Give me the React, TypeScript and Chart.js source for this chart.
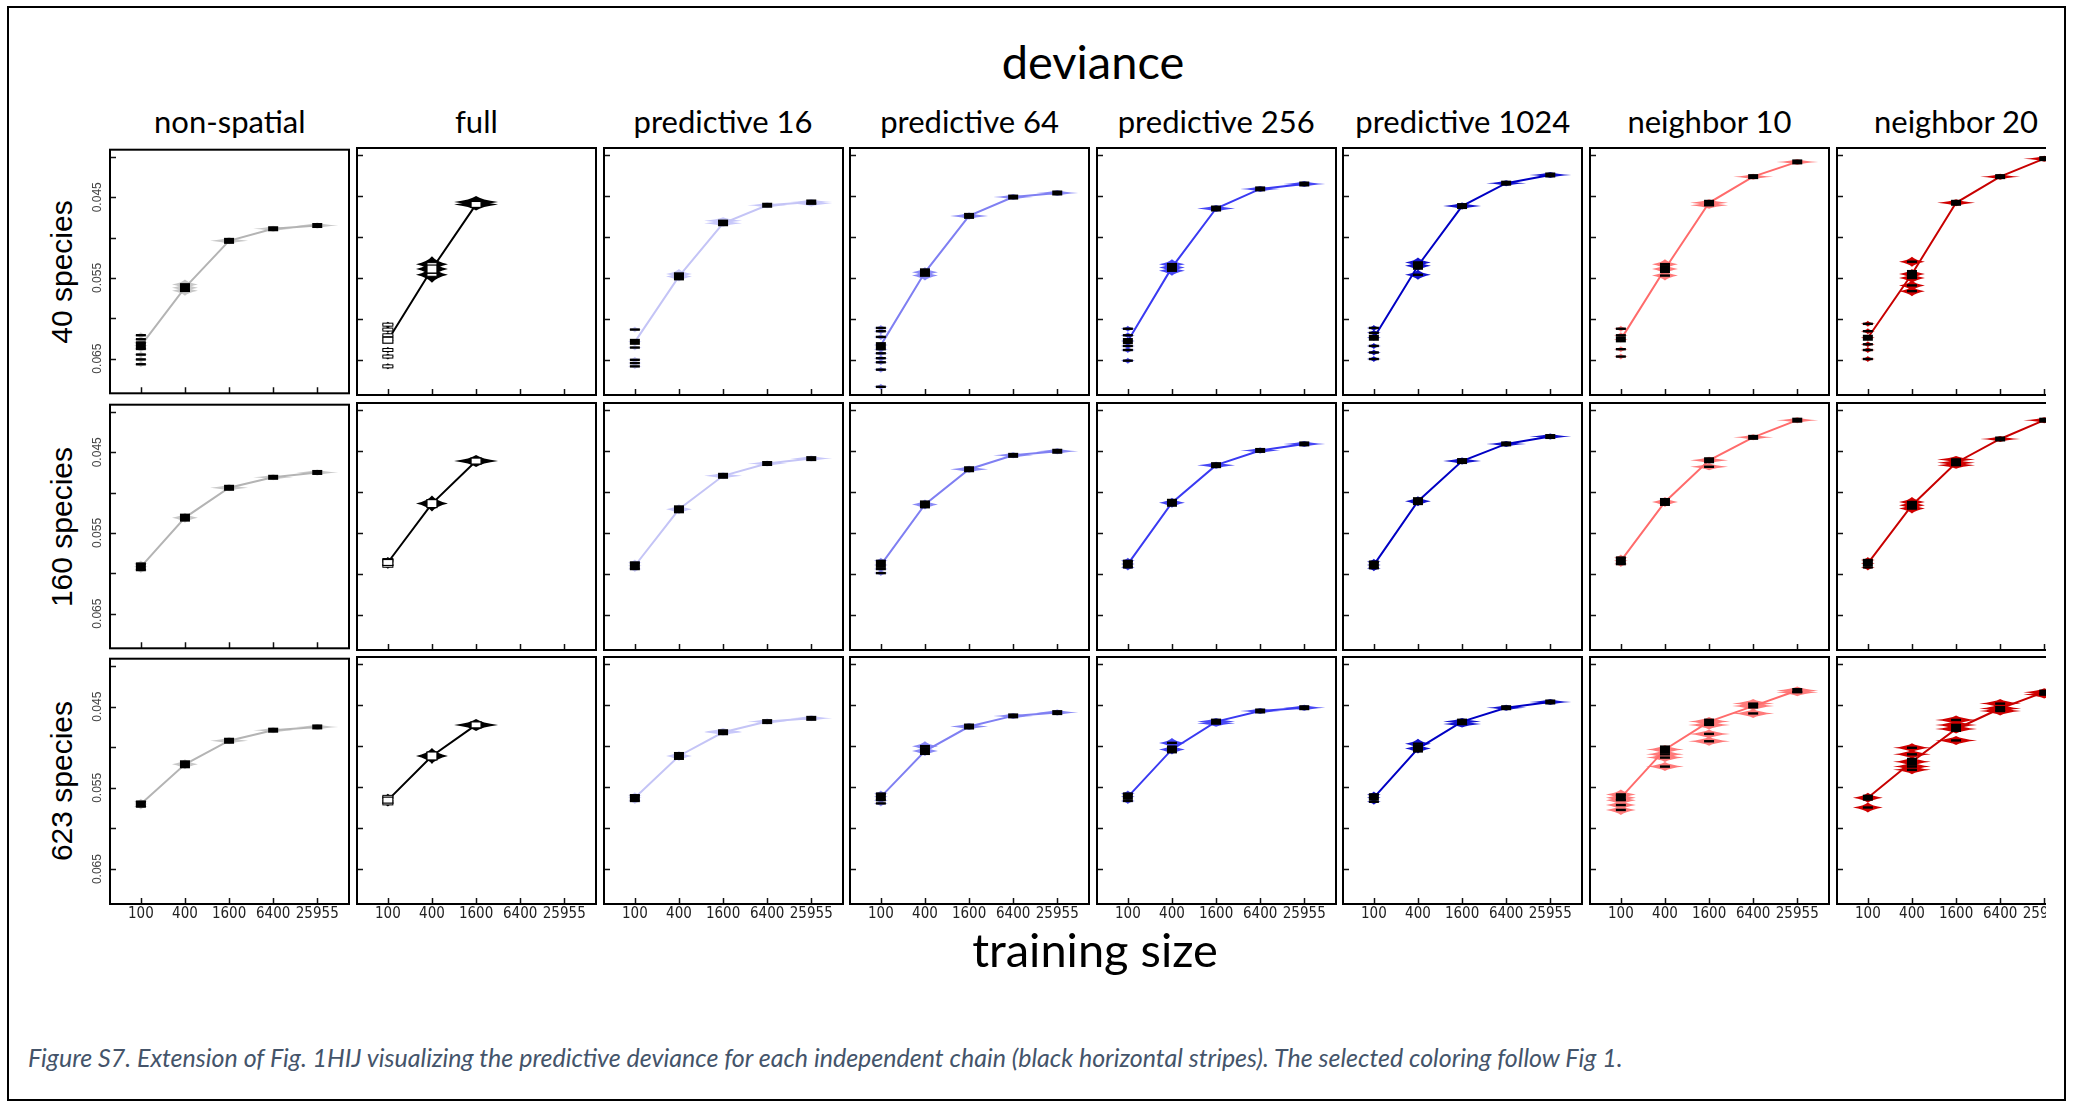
import React, { useEffect, useRef } from "react";
import { Chart, registerables } from "chart.js";

Chart.register(...registerables);

// ---------------- data ----------------
const trainingSizes = ["100", "400", "1600", "6400", "25955"];
const methods = [
  "non-spatial",
  "full",
  "predictive 16",
  "predictive 64",
  "predictive 256",
  "predictive 1024",
  "neighbor 10",
  "neighbor 20",
];
const speciesRows = ["40 species", "160 species", "623 species"];
const yTickValues = [0.04, 0.045, 0.05, 0.055, 0.06, 0.065];
const yTickLabels = ["0.045", "0.055", "0.065"];

// mean predictive deviance per method (columns) and training size
const deviance40 = [
  [0.0634, 0.0562, 0.0504, 0.0489, 0.0485],
  [0.0626, 0.0539, 0.046, null, null],
  [0.0628, 0.0548, 0.0483, 0.0461, 0.0457],
  [0.0632, 0.0543, 0.0474, 0.0451, 0.0446],
  [0.0627, 0.0537, 0.0465, 0.0441, 0.0435],
  [0.0623, 0.0535, 0.0462, 0.0434, 0.0424],
  [0.0625, 0.0539, 0.0458, 0.0426, 0.0408],
  [0.0623, 0.0545, 0.0458, 0.0426, 0.0404],
];
const deviance160 = [
  [0.0592, 0.0531, 0.0494, 0.0481, 0.0475],
  [0.0586, 0.0514, 0.0462, null, null],
  [0.059, 0.0521, 0.048, 0.0465, 0.0459],
  [0.0589, 0.0515, 0.0472, 0.0455, 0.045],
  [0.0588, 0.0513, 0.0467, 0.0449, 0.0441],
  [0.0589, 0.0511, 0.0462, 0.0441, 0.0432],
  [0.0584, 0.0512, 0.0461, 0.0433, 0.0412],
  [0.0587, 0.0516, 0.0464, 0.0435, 0.0412],
];
const deviance623 = [
  [0.057, 0.0521, 0.0492, 0.0479, 0.0475],
  [0.0566, 0.0512, 0.0474, null, null],
  [0.0563, 0.0512, 0.0483, 0.047, 0.0466],
  [0.0562, 0.0506, 0.0476, 0.0463, 0.0459],
  [0.0562, 0.0504, 0.047, 0.0457, 0.0453],
  [0.0563, 0.0503, 0.047, 0.0453, 0.0446],
  [0.0563, 0.0504, 0.047, 0.0451, 0.0432],
  [0.0563, 0.0519, 0.0479, 0.0454, 0.0434],
];

// individual chains that stand apart from the mean: [training size index, deviance]
const chains40 = [
  [[0, 0.0621], [0, 0.0626], [0, 0.063], [0, 0.0638], [0, 0.0645], [0, 0.0651], [0, 0.0657], [1, 0.0558], [1, 0.0566]],
  [[0, 0.0607], [0, 0.0613], [0, 0.062], [0, 0.0638], [0, 0.0646], [0, 0.0658], [1, 0.0533], [1, 0.0546], [2, 0.0457]],
  [[0, 0.0613], [0, 0.0635], [0, 0.065], [0, 0.0654], [0, 0.0658], [1, 0.0545], [2, 0.048], [4, 0.0459]],
  [[0, 0.0611], [0, 0.0615], [0, 0.0622], [0, 0.0637], [0, 0.0642], [0, 0.0648], [0, 0.0653], [0, 0.0662], [0, 0.0683], [1, 0.0547]],
  [[0, 0.0612], [0, 0.062], [0, 0.0633], [0, 0.0638], [0, 0.0651], [1, 0.0533], [1, 0.0541]],
  [[0, 0.0611], [0, 0.0617], [0, 0.0633], [0, 0.0641], [0, 0.0649], [1, 0.0531], [1, 0.0546]],
  [[0, 0.0612], [0, 0.062], [0, 0.0637], [0, 0.0646], [1, 0.0533], [1, 0.0547], [2, 0.0461]],
  [[0, 0.0606], [0, 0.0615], [0, 0.0631], [0, 0.0638], [0, 0.0649], [1, 0.053], [1, 0.055], [1, 0.0559], [1, 0.0566]],
];
const chains160 = [
  [[0, 0.0588], [0, 0.0596]],
  [[0, 0.0583], [0, 0.059]],
  [[0, 0.0586], [0, 0.0594]],
  [[0, 0.0584], [0, 0.0594], [0, 0.0599]],
  [[0, 0.0584], [0, 0.0592]],
  [[0, 0.0585], [0, 0.0593]],
  [[0, 0.058], [0, 0.0588], [2, 0.0469]],
  [[0, 0.0583], [0, 0.0592], [1, 0.0512], [1, 0.052], [2, 0.046], [2, 0.0467]],
];
const chains623 = [
  [[0, 0.0567], [0, 0.0573]],
  [[0, 0.0562], [0, 0.057]],
  [[0, 0.056], [0, 0.0567], [2, 0.0482]],
  [[0, 0.0558], [0, 0.0566], [0, 0.057], [1, 0.05]],
  [[0, 0.0558], [0, 0.0567], [1, 0.0496], [2, 0.0472]],
  [[0, 0.0559], [0, 0.0568], [1, 0.0497], [2, 0.0473]],
  [[0, 0.0559], [0, 0.0566], [0, 0.0572], [0, 0.0578], [1, 0.051], [1, 0.0514], [1, 0.0525], [2, 0.0474], [2, 0.0485], [2, 0.0494], [3, 0.0448], [3, 0.046], [4, 0.0434]],
  [[0, 0.0575], [1, 0.0502], [1, 0.051], [1, 0.0525], [1, 0.0529], [2, 0.0468], [2, 0.0474], [2, 0.0493], [3, 0.0448], [3, 0.0457], [4, 0.0437]],
];

const devianceRows = [deviance40, deviance160, deviance623];
const chainRows = [chains40, chains160, chains623];

// ---------------- styling ----------------
const lineColors = ["#b4b4b4", "#000000", "#c4c4f6", "#7f7ff2", "#3a3af2", "#0000c4", "#ff6b6b", "#c80000"];
const beanColors = ["#c8c8c8", "#000000", "#c8c8fa", "#8a8af6", "#4646f5", "#1414d0", "#ff7a7a", "#d00000"];

const GRID_LEFT = 110.3;
const PITCH_X = 246.6;
const PANEL_W = 239;
const PANEL_H = 247;
const ROW_TOPS = [148, 403, 657];
const PAD = 3;

function beanSize(r: number, c: number, i: number) {
  const w = [7, 13, 19, 20, 21];
  const h = [3, 5, 3.5, 3, 3];
  if (c === 1) return { w: [6, 16, 22, 22, 22][i], h: [3, 8, 6, 5, 5][i] };
  if (r === 2 && c >= 6) return { w: [15, 19, 21, 21, 21][i], h: [5, 4.5, 4.5, 4.5, 4][i] };
  return { w: w[i], h: h[i] };
}
const MARK_H = [6, 8, 6, 5, 5];

const TITLE_FONT = "Lato, 'Open Sans', sans-serif";

function spindle(ctx: CanvasRenderingContext2D, x: number, y: number, w: number, h: number) {
  ctx.beginPath();
  ctx.moveTo(x - w, y);
  ctx.quadraticCurveTo(x - w * 0.25, y - h * 0.35, x, y - h);
  ctx.quadraticCurveTo(x + w * 0.25, y - h * 0.35, x + w, y);
  ctx.quadraticCurveTo(x + w * 0.25, y + h * 0.35, x, y + h);
  ctx.quadraticCurveTo(x - w * 0.25, y + h * 0.35, x - w, y);
  ctx.closePath();
  ctx.fill();
}

function Panel({ r, c }: { r: number; c: number }) {
  const ref = useRef<HTMLCanvasElement>(null);
  const leftExtra = c === 0 ? 40 : 0;
  const bottomExtra = r === 2 ? 34 : 0;
  const cw = PANEL_W + 2 * PAD + leftExtra;
  const ch = PANEL_H + 2 * PAD + bottomExtra;
  const left = Math.round(GRID_LEFT + PITCH_X * c) - PAD - leftExtra;
  const top = ROW_TOPS[r] - PAD;

  useEffect(() => {
    const canvas = ref.current;
    if (!canvas) return;
    const values = devianceRows[r][c];
    const extras = chainRows[r][c];
    const isFull = c === 1;

    const decor = {
      id: "decor",
      beforeDatasetsDraw(chart: any) {
        const { ctx, chartArea: a } = chart;
        const xs = chart.scales.x;
        const ys = chart.scales.y;
        ctx.save();
        ctx.beginPath();
        ctx.rect(a.left, a.top, a.right - a.left, a.bottom - a.top);
        ctx.clip();
        ctx.fillStyle = beanColors[c];
        values.forEach((v: number | null, i: number) => {
          if (v == null) return;
          const px = xs.getPixelForValue(i + 1);
          const b = beanSize(r, c, i);
          const all = [v, ...extras.filter((e: number[]) => e[0] === i).map((e: number[]) => e[1])];
          all.forEach((val) => spindle(ctx, px, ys.getPixelForValue(val), b.w, b.h));
        });
        ctx.restore();
      },
      afterDatasetsDraw(chart: any) {
        const { ctx, chartArea: a } = chart;
        const xs = chart.scales.x;
        const ys = chart.scales.y;
        ctx.save();
        ctx.beginPath();
        ctx.rect(a.left, a.top, a.right - a.left, a.bottom - a.top);
        ctx.clip();
        values.forEach((v: number | null, i: number) => {
          if (v == null) return;
          const px = xs.getPixelForValue(i + 1);
          const stripes = extras.filter((e: number[]) => e[0] === i).map((e: number[]) => e[1]);
          stripes.forEach((val: number) => {
            const py = ys.getPixelForValue(val);
            if (isFull) {
              ctx.fillStyle = "#fff";
              ctx.strokeStyle = "#000";
              ctx.lineWidth = 1;
              ctx.fillRect(px - 5, py - 1.5, 10, 3);
              ctx.strokeRect(px - 5, py - 1.5, 10, 3);
            } else {
              ctx.fillStyle = "#000";
              ctx.fillRect(px - 5, py - 1.2, 10, 2.4);
            }
          });
          const py = ys.getPixelForValue(v);
          const mh = MARK_H[i];
          if (isFull) {
            ctx.fillStyle = "#fff";
            ctx.strokeStyle = "#000";
            ctx.lineWidth = 1.2;
            ctx.fillRect(px - 5, py - mh / 2, 10, mh);
            ctx.strokeRect(px - 5, py - mh / 2, 10, mh);
          } else {
            ctx.fillStyle = "#000";
            ctx.fillRect(px - 5, py - mh / 2, 10, mh);
          }
        });
        ctx.restore();
      },
      afterDraw(chart: any) {
        const { ctx, chartArea: a } = chart;
        const xs = chart.scales.x;
        const ys = chart.scales.y;
        ctx.save();
        ctx.strokeStyle = "#111";
        ctx.lineWidth = 1.5;
        ctx.beginPath();
        yTickValues.forEach((v) => {
          const py = Math.round(ys.getPixelForValue(v)) + 0.5;
          ctx.moveTo(a.left, py);
          ctx.lineTo(a.left + 6, py);
        });
        trainingSizes.forEach((_, i) => {
          const px = Math.round(xs.getPixelForValue(i + 1)) + 0.5;
          ctx.moveTo(px, a.bottom);
          ctx.lineTo(px, a.bottom - 6);
        });
        ctx.stroke();
        ctx.lineWidth = 2;
        ctx.strokeStyle = "#000";
        ctx.strokeRect(a.left, a.top, a.right - a.left, a.bottom - a.top);
        ctx.restore();
      },
    };

    const data = values
      .map((v: number | null, i: number) => (v == null ? null : { x: i + 1, y: v }))
      .filter((p: any) => p !== null);

    const chart = new Chart(canvas, {
      type: "line",
      data: {
        datasets: [
          {
            data: data as any,
            borderColor: lineColors[c],
            borderWidth: 2,
            pointRadius: 0,
            fill: false,
            tension: 0,
          },
        ],
      },
      options: {
        animation: false,
        responsive: false,
        maintainAspectRatio: false,
        devicePixelRatio: 1,
        events: [],
        layout: { padding: PAD },
        plugins: { legend: { display: false }, tooltip: { enabled: false }, title: { display: false } },
        scales: {
          x: {
            type: "linear",
            min: 0.3,
            max: 5.72,
            display: r === 2,
            afterBuildTicks: (s: any) => {
              s.ticks = trainingSizes.map((_, i) => ({ value: i + 1 }));
            },
            afterFit: (s: any) => {
              s.height = bottomExtra;
            },
            grid: { display: false, drawTicks: false },
            border: { display: false },
            ticks: {
              autoSkip: false,
              maxRotation: 0,
              minRotation: 0,
              padding: 1,
              color: "#222",
              font: { family: "'Liberation Sans Narrow', 'Arial Narrow', 'DejaVu Sans Condensed', sans-serif", size: 15 },
              callback: (v: any) => trainingSizes[Math.round(v) - 1] ?? "",
            },
          },
          y: {
            type: "linear",
            min: 0.0391,
            max: 0.0693,
            reverse: true,
            display: c === 0,
            afterBuildTicks: (s: any) => {
              s.ticks = yTickValues.map((v) => ({ value: v }));
            },
            afterFit: (s: any) => {
              s.width = leftExtra;
            },
            grid: { display: false, drawTicks: false },
            border: { display: false },
            ticks: {
              autoSkip: false,
              minRotation: 90,
              maxRotation: 90,
              crossAlign: "center",
              padding: -2.5,
              color: "#444",
              font: { family: "'Liberation Sans', Arial, sans-serif", size: 12 },
              callback: (v: any) => {
                const s = Number(v).toFixed(3);
                return yTickLabels.includes(s) ? s : "";
              },
            },
          },
        },
      },
      plugins: [decor],
    } as any);
    return () => chart.destroy();
  }, [r, c, bottomExtra, leftExtra]);

  return (
    <canvas
      ref={ref}
      width={cw}
      height={ch}
      style={{ position: "absolute", left, top, width: cw, height: ch }}
    />
  );
}

export default function App() {
  const panels = [];
  for (let r = 0; r < 3; r++) {
    for (let c = 0; c < 8; c++) {
      panels.push(<Panel key={`${r}-${c}`} r={r} c={c} />);
    }
  }
  const centerX = (c: number) => GRID_LEFT + PITCH_X * c + PANEL_W / 2;
  return (
    <div
      style={{
        position: "absolute",
        left: 0,
        top: 0,
        width: 2074,
        height: 1107,
        background: "#fff",
        overflow: "hidden",
      }}
    >
      <div
        style={{
          position: "absolute",
          left: 7,
          top: 6,
          width: 2059,
          height: 1095,
          border: "2px solid #000",
          boxSizing: "border-box",
        }}
      />
      <div style={{ position: "absolute", left: 0, top: 0, width: 2046, height: 1000, overflow: "hidden" }}>
        <div
          style={{
            position: "absolute",
            left: 1093 - 200,
            width: 400,
            top: 38,
            textAlign: "center",
            fontFamily: TITLE_FONT,
            fontSize: 47,
            lineHeight: "47px",
            color: "#000",
          }}
        >
          deviance
        </div>
        {methods.map((m, c) => (
          <div
            key={m}
            style={{
              position: "absolute",
              left: centerX(c) - 150,
              width: 300,
              top: 106,
              textAlign: "center",
              fontFamily: TITLE_FONT,
              fontSize: 31,
              lineHeight: "31px",
              color: "#000",
              whiteSpace: "nowrap",
            }}
          >
            {m}
          </div>
        ))}
        {speciesRows.map((s, r) => (
          <div
            key={s}
            style={{
              position: "absolute",
              left: 62 - 150,
              top: ROW_TOPS[r] + PANEL_H / 2 - 17,
              width: 300,
              height: 34,
              lineHeight: "34px",
              textAlign: "center",
              fontFamily: "'Liberation Sans', Arial, sans-serif",
              fontSize: 30,
              color: "#000",
              transform: "rotate(-90deg)",
              whiteSpace: "nowrap",
            }}
          >
            {s}
          </div>
        ))}
        {panels}
        <div
          style={{
            position: "absolute",
            left: 1095 - 200,
            width: 400,
            top: 926,
            textAlign: "center",
            fontFamily: TITLE_FONT,
            fontSize: 47,
            lineHeight: "47px",
            color: "#000",
          }}
        >
          training size
        </div>
      </div>
      <div
        style={{
          position: "absolute",
          left: 28,
          top: 1042,
          fontFamily: TITLE_FONT,
          fontStyle: "italic",
          fontSize: 25,
          lineHeight: "30px",
          color: "#44546a",
          whiteSpace: "nowrap",
        }}
      >
        Figure S7. Extension of Fig. 1HIJ visualizing the predictive deviance for each independent chain (black
        horizontal stripes). The selected coloring follow Fig 1.
      </div>
    </div>
  );
}
